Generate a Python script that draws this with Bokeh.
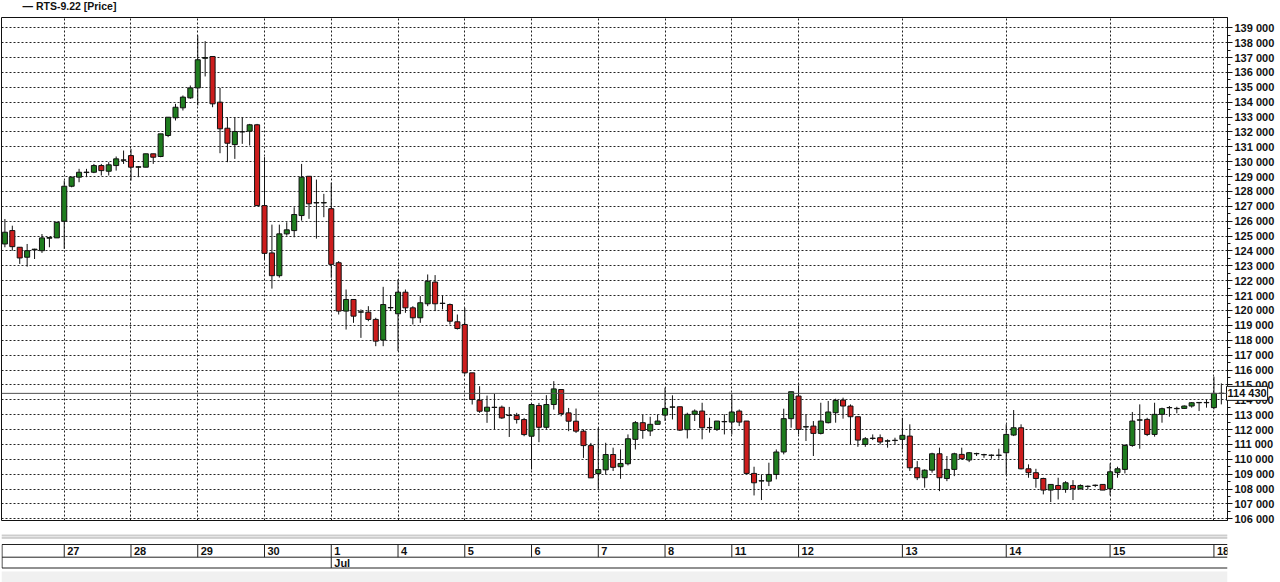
from bokeh.plotting import figure
from bokeh.models import Range1d, FixedTicker, Grid, Span, Label, ColumnDataSource
from bokeh.layouts import column
from bokeh.embed import file_html
from bokeh.resources import INLINE
from bokeh.core.properties import value

# ---------------- data (hourly candles, RTS-9.22) ----------------
opens = [124470, 125370, 124250, 123580, 124080, 124020, 124860, 124880,
         126000, 128350, 128960, 129270, 129290, 129740, 129360, 129740, 130100,
         130410, 129630, 129630, 130530, 130350, 131760, 132950, 133620, 134290,
         134960, 136950, 137070, 134000, 132250, 131150, 132000, 132050, 132480,
         127050, 123870, 122340, 125150, 125370, 126380, 129020, 127230, 127230,
         126840, 123210, 119960, 120740, 119890, 119890, 119400, 118010, 120180,
         119780, 121230, 120180, 119510, 120450, 121910, 120470, 120400, 119240,
         119060, 115810, 113970, 113230, 113480, 113500, 112940, 112940, 112670,
         111550, 113610, 112150, 113680, 114690, 113120, 112560, 111890, 110920,
         109040, 109290, 110320, 109500, 109700, 111340, 112460, 111900, 112350,
         112970, 113500, 113530, 111990, 113020, 113240, 112120, 112010, 112520,
         112500, 113240, 112570, 109050, 108540, 108530, 108980, 110490, 112730,
         114250, 112170, 112230, 111740, 112460, 113130, 113980, 113580, 112860,
         111000, 111400, 111450, 111220, 111260,
         111340, 111560, 109430, 108760, 109270, 110370, 108710, 109320, 110330,
         109950, 110370, 110300, 110260, 110260,
         110440, 111630, 112120, 109360, 109100, 108710, 107930, 108240, 107970,
         108240, 108020, 108170, 108240, 108310,
         108020, 109100, 109320, 110930, 112630, 112680, 111670, 113020, 113460,
         113400, 113420, 113580, 113800, 113800,
         113470, 114430]
highs = [126150, 125700, 124250, 124470, 124150, 125140, 124920, 125930,
         128730, 128960, 129520, 129520, 129850, 129850, 129970, 130350, 130750,
         130860, 129700, 130530, 130530, 131870, 132990, 133890, 134450, 135120,
         138480, 138100, 137070, 134960, 132990, 132990, 132990, 132540, 132540,
         130300, 125770, 125770, 125930, 126940, 129850, 129020, 128800, 127840,
         128590, 123320, 121410, 120740, 120070, 120290, 119510, 121590, 121030,
         122090, 121410, 120290, 120970, 122420, 122380, 121030, 120470, 119730,
         120180, 115810, 114910, 114280, 114400, 113610, 113520, 113120, 112780,
         113680, 113790, 114310, 115250, 114700, 113450, 113410, 112000, 111100,
         112110, 111110, 110780, 110660, 111670, 112570, 113020, 112860, 113020,
         114810, 114300, 113530, 113130, 113350, 113800, 112790, 112570, 113020,
         114360, 113350, 112570, 109500, 108980, 109770, 110660, 113400, 114540,
         114970, 113020, 112570, 113800, 113920, 114070, 114140, 113690, 112860,
         111490, 111670, 111670, 111340, 111450,
         112790, 112350, 109880, 109320, 110440, 110780, 110220, 110440, 110780,
         110490, 110440, 110370, 110330, 110710,
         112350, 113310, 112350, 109660, 109360, 108760, 108310, 108760, 108530,
         108600, 108310, 108240, 108300, 108310,
         109720, 109500, 111000, 113180, 113690, 112790, 113800, 113470, 113580,
         113530, 113620, 113850, 113850, 114000,
         115550, 115100]
lows = [124250, 124020, 123130, 122950, 123460, 123870, 124250, 124880,
        124140, 128280, 128620, 128960, 129230, 129070, 129070, 129400, 129850,
        128730, 128960, 129630, 129850, 130300, 131650, 132770, 133440, 134230,
        133780, 135730, 133660, 130570, 129970, 130190, 131200, 131090, 127050,
        123460, 121470, 122210, 125030, 124920, 126040, 126160, 124830, 126270,
        122200, 119730, 118720, 119170, 118160, 119280, 117600, 117600, 119960,
        117270, 119840, 119060, 119170, 120290, 119960, 120070, 119060, 118720,
        115700, 113680, 113120, 112450, 112000, 112710, 111500, 112400, 111550,
        109310, 111150, 112040, 113340, 112890, 111890, 111770, 110090, 108750,
        108010, 108970, 109210, 108690, 109590, 110660, 111380, 111560, 112350,
        112570, 112680, 111900, 111400, 112570, 111340, 111790, 111900, 111670,
        111670, 112230, 109050, 107570, 107260, 108200, 108650, 110330, 112120,
        111670, 111230, 110220, 111670, 112410, 112460, 112730, 111000, 110840,
        110840, 111290, 111000, 110780, 111000,
        110660, 109210, 108600, 108090, 109100, 107860, 108530, 108870, 109990,
        109810, 110220, 110100, 110040, 110040,
        108980, 111560, 109320, 108760, 108090, 107640, 107120, 107300, 107750,
        107260, 107970, 107970, 108130, 107930,
        107570, 108760, 109050, 110840, 110710, 111560, 111520, 112460, 112860,
        113090, 113400, 113470, 113240, 113470,
        113350, 113690]
closes = [125260, 124290, 123530, 124020, 124120, 124880, 124900, 125930,
          128350, 128960, 129290, 129300, 129740, 129400, 129790, 130190, 130120,
          129630, 129660, 130530, 130300, 131870, 132990, 133660, 134340, 134960,
          136850, 137000, 133890, 132210, 131240, 132030, 132020, 132480, 127050,
          123840, 122340, 125150, 125420, 126450, 128960, 127170, 127250, 127250,
          123100, 119960, 120740, 119620, 119910, 119400, 117940, 120400, 120200,
          121230, 120180, 119510, 120520, 121970, 120450, 120490, 119280, 118790,
          115810, 114020, 113230, 113500, 113500, 112780, 112960, 112670, 111660,
          113680, 112150, 113680, 114730, 113070, 112560, 111890, 110920, 108750,
          109310, 110320, 109460, 109720, 111380, 112460, 111940, 112350, 112570,
          113420, 113520, 111960, 113020, 113240, 112120, 112140, 112570, 112540,
          113180, 112500, 109050, 108420, 108560, 108980, 110490, 112730, 114540,
          112010, 112190, 111740, 112570, 113180, 113960, 113580, 112860, 111290,
          111380, 111420, 111160, 111240, 111280,
          111610, 109430, 108760, 109270, 110370, 108760, 109320, 110370, 110040,
          110440, 110390, 110320, 110280, 110280,
          111670, 112120, 109360, 109100, 108710, 107930, 108310, 107970, 108420,
          108020, 108240, 108190, 108260, 107930,
          109160, 109360, 110930, 112570, 112650, 111670, 113020, 113400, 113480,
          113420, 113580, 113800, 113820, 113820,
          114430, 114430]

# bars per trading session (first one is the tail of the previous session)
session_bars = [8, 9, 9, 9, 9, 9, 9, 9, 9, 9, 9, 9, 14, 14, 14, 14, 2]
day_labels = ["27", "28", "29", "30", "1", "4", "5", "6", "7", "8", "11",
              "12", "13", "14", "15", "18"]
month_labels = ["Jul"]
month_first_day = ["1"]
price_ticks = list(range(106000, 139001, 1000))
last_price = 114430
series_name = "RTS-9.22 [Price]"

# ---------------- derived ----------------
n = len(opens)
idx = list(range(n))
starts = []
acc = 0
for b in session_bars[:-1]:
    acc += b
    starts.append(acc)
month_starts = [starts[day_labels.index(d)] for d in month_first_day]

GREEN = "#1f7d1f"
RED = "#cc1d1d"
INK = "#111111"
colors = [GREEN if c >= o else RED for o, c in zip(opens, closes)]
src = ColumnDataSource(dict(idx=idx, o=opens, h=highs, l=lows, c=closes,
                            top=[max(a, b) for a, b in zip(opens, closes)],
                            bot=[min(a, b) for a, b in zip(opens, closes)],
                            col=colors))

W = 1280
BL, BR = 1, 53
BT, BB = 17, 13
FH = 504
H1 = BT + FH + BB
H2 = 582 - H1
X0, X1 = -0.458, 164.83
Y0, Y1 = 105886, 139691
FONTNAME = "Liberation Sans"
FONT = value(FONTNAME)

p = figure(width=W, height=H1, x_range=Range1d(X0, X1), y_range=Range1d(Y0, Y1),
           output_backend="svg", toolbar_location=None,
           x_axis_location=None, y_axis_location="right",
           min_border_left=BL, min_border_right=BR, min_border_top=BT, min_border_bottom=BB)
p.background_fill_color = "white"
p.border_fill_color = "white"
p.outline_line_color = INK
p.outline_line_width = 1
p.xgrid.visible = False

p.yaxis.ticker = FixedTicker(ticks=price_ticks,
                             minor_ticks=[t + 500 for t in price_ticks[:-1]])
p.yaxis.major_label_overrides = {t: f"{t:,}".replace(",", " ") for t in price_ticks}
p.yaxis.major_label_text_font = FONTNAME
p.yaxis.major_label_text_font_size = "11px"
p.yaxis.major_label_text_font_style = "bold"
p.yaxis.major_label_text_color = INK
p.yaxis.major_label_standoff = 2
p.yaxis.major_tick_out = 5
p.yaxis.major_tick_in = 0
p.yaxis.minor_tick_out = 3
p.yaxis.minor_tick_in = 0
p.yaxis.axis_line_color = INK
p.yaxis.major_tick_line_color = INK
p.yaxis.minor_tick_line_color = INK

p.ygrid.grid_line_color = "#222222"
p.ygrid.grid_line_dash = "2 2"
p.ygrid.grid_line_width = 1
vg = Grid(dimension=0, ticker=FixedTicker(ticks=starts), grid_line_color="#222222",
          grid_line_dash="2 2", grid_line_width=1)
p.add_layout(vg, "center")

p.add_layout(Span(location=last_price, dimension="width", line_color="#505050", line_width=1))

p.segment(x0="idx", y0="l", x1="idx", y1="h", source=src, line_color=INK, line_width=1)
p.vbar(x="idx", width=0.68, top="top", bottom="bot", source=src,
       fill_color="col", line_color=INK, line_width=1)

FW = W - BL - BR
# last-price box over the price scale (side panel, so it is not clipped to the frame)
p.add_layout(Label(x=FW - 1, y=last_price, x_units="screen", y_units="data",
                   text=f"{last_price:,}".replace(",", " "), text_font=FONTNAME,
                   text_font_size="11px", text_font_style="bold",
                   text_baseline="middle", text_color=INK,
                   background_fill_color="white", border_line_color=INK,
                   border_line_width=1, padding=1), "below")
# series legend line above the chart
p.add_layout(Label(x=21, y=11.5, x_units="screen", y_units="screen",
                   text="\u2014    " + series_name, text_font=FONTNAME,
                   text_font_size="10.5px", text_font_style="bold",
                   text_baseline="middle", text_color=INK), "above")

# ---------------- date panel ----------------
p2 = figure(width=W, height=H2, x_range=Range1d(X0, X1), y_range=Range1d(H2, 0),
            output_backend="svg", toolbar_location=None,
            x_axis_location=None, y_axis_location=None,
            min_border_left=BL, min_border_right=BR, min_border_top=0, min_border_bottom=0)
p2.outline_line_color = None
p2.background_fill_color = "white"
p2.border_fill_color = "white"
p2.grid.visible = False

# splitter band and bottom status strip
p2.quad(left=[X0], right=[X1], top=[0], bottom=[4], fill_color="#e6e6e6", line_color=None)
p2.segment(x0=[X0, X0], x1=[X1, X1], y0=[0.5, 3.5], y1=[0.5, 3.5],
           line_color="#b4b4b4", line_width=1)
p2.quad(left=[X0], right=[X1], top=[37], bottom=[H2], fill_color="#f0f0f0", line_color=None)

r1, r2, r3 = 10, 22.7, 33.5
xl = X0 + 0.07
p2.segment(x0=[xl, xl, xl], x1=[X1, X1, X1], y0=[r1, r2, r3], y1=[r1, r2, r3],
           line_color="#222222", line_width=1)
p2.segment(x0=[xl], x1=[xl], y0=[r1], y1=[r3], line_color="#222222", line_width=1)
p2.segment(x0=starts, x1=starts, y0=[r1] * len(starts), y1=[r2] * len(starts),
           line_color="#222222", line_width=1)
p2.segment(x0=month_starts, x1=month_starts, y0=[r2] * len(month_starts),
           y1=[r3] * len(month_starts), line_color="#222222", line_width=1)
p2.text(x=starts, y=[(r1 + r2) / 2 + 0.5] * len(starts), text=day_labels, x_offset=3,
        text_baseline="middle", text_font=FONT, text_font_style="bold",
        text_font_size="11px", text_color=INK)
p2.text(x=month_starts, y=[(r2 + r3) / 2 + 0.5] * len(month_starts), text=month_labels,
        x_offset=3, text_baseline="middle", text_font=FONT, text_font_style="bold",
        text_font_size="11px", text_color=INK)

layout = column(p, p2, spacing=0)
open("out.html", "w").write(file_html(layout, INLINE))
